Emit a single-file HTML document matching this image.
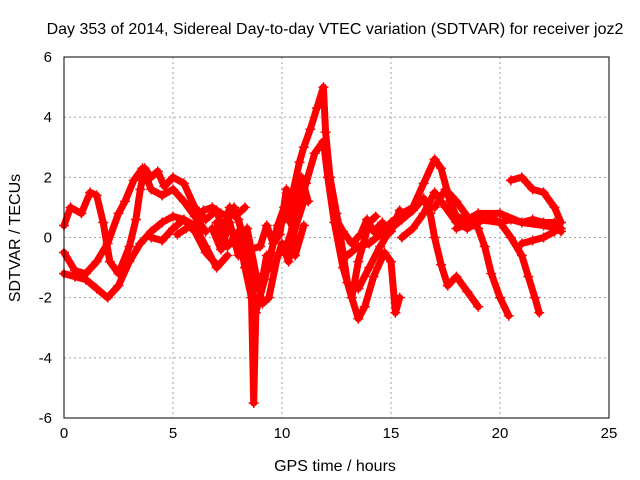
<!DOCTYPE html>
<html><head><meta charset="utf-8"><style>
body{margin:0;background:#fff}
svg{display:block;font-family:"Liberation Sans",sans-serif}
</style></head><body>
<svg id="chart" width="640" height="480">
<rect width="640" height="480" fill="#fff"/>
<g id="grid"></g>
<g id="series"></g>
<rect x="64" y="57" width="545" height="361" fill="none" stroke="#000" stroke-width="1"/>
<g id="ticks"></g>
<text x="335" y="34" text-anchor="middle" font-size="16">Day 353 of 2014, Sidereal Day-to-day VTEC variation (SDTVAR) for receiver joz2</text>
<text x="335" y="471" text-anchor="middle" font-size="16">GPS time / hours</text>
<text transform="translate(20,238) rotate(-90)" text-anchor="middle" font-size="16">SDTVAR / TECUs</text>
</svg>
<script>
const xTicks=[0,5,10,15,20,25];
const yTicks=[-6,-4,-2,0,2,4,6];
const track1=[[0,-1.2],[0.5,-1.3],[1,-1.4],[1.5,-1.7],[2,-2.0],[2.5,-1.6],[3,-0.8],[3.5,-0.2],[4,0.2],[4.5,0.5],[5,0.7],[5.5,0.6],[6,0.2],[6.5,-0.5],[7,-0.9]];
const track2=[[0,0.4],[0.3,1.0],[0.8,0.8],[1.2,1.5],[1.5,1.4],[1.8,0.5],[2.1,-0.8],[2.5,-1.2],[3,-0.3],[3.3,0.6],[3.5,1.6],[3.7,2.3],[4,2.0],[4.3,2.2],[4.6,1.7],[5,2.0],[5.5,1.8],[6,1.0],[6.5,0.6]];
const track3=[[0,-0.5],[0.5,-1.1],[1,-1.2],[1.5,-0.8],[2,-0.2],[2.5,0.8],[2.8,1.2],[3.2,1.9],[3.6,2.3],[4,1.6],[4.5,1.4],[5,1.6],[5.5,1.2],[6,0.7],[6.5,0.2]];
const track4=[[4,0.0],[4.5,-0.1],[5,0.3],[5.5,0.6],[6,0.4],[6.5,-0.3],[7,-1.0],[7.5,-0.6]];
const track5=[[6.5,0.6],[7,0.9],[7.3,0.2],[7.6,1.0],[8,0.6],[8.3,-0.2],[8.6,-1.0],[8.7,-2.8],[8.9,-2.2],[9.2,-1.4],[9.5,-0.5],[9.8,0.4],[10.1,1.0],[10.5,0.3]];
const track6=[[7,0.5],[7.5,-0.3],[8,0.2],[8.3,-1.0],[8.6,-2.0],[8.7,-5.5],[8.8,-2.5],[9,-1.8],[9.3,-0.6],[9.6,-1.1],[10,-0.2],[10.3,-0.8],[10.6,0.3],[11,1.2]];
const track7=[[10,0.5],[10.5,1.5],[10.8,2.5],[11,3.0],[11.3,3.6],[11.6,4.3],[11.9,5.0],[12,3.5],[12.2,2.0],[12.5,0.8],[12.8,-0.5],[13,-1.5],[13.2,-2.0],[13.5,-0.8],[14,0.5],[14.3,0.7]];
const track8=[[10.2,-0.3],[10.7,0.8],[11.1,1.8],[11.5,2.8],[11.9,3.2],[12.1,2.0],[12.4,0.5],[12.8,-1.0],[13.2,-2.0],[13.5,-2.7],[13.8,-2.3],[14.2,-1.3],[14.7,-0.5],[15,-0.8],[15.2,-2.5],[15.4,-2.0]];
const track9=[[13,-0.6],[13.5,-0.3],[14,-0.2],[14.5,0.1],[15,0.5],[15.5,0.8],[16,1.0],[16.5,1.8],[17,2.6],[17.3,2.3],[17.7,1.2],[18,0.7],[18.5,0.6],[19,0.8],[20,0.8],[21,0.5],[22,0.4],[22.7,0.3]];
const track10=[[13.5,-1.7],[14,-1.0],[14.5,-0.3],[15,0.3],[15.5,0.6],[16,0.9],[16.5,1.3],[16.8,0.8],[17,0.0],[17.3,-0.9],[17.6,-1.6],[18,-1.3],[18.5,-1.8],[19,-2.3]];
const track11=[[15.5,0.0],[16,0.3],[16.5,0.8],[17,1.5],[17.5,1.0],[18,0.5],[18.5,0.3],[19,0.5],[19.5,0.7],[20,0.5],[20.5,0.6],[21,0.5],[21.5,0.6],[22,0.5],[22.5,0.5],[22.8,0.2]];
const track12=[[17,1.0],[17.5,1.6],[18,1.2],[18.5,0.7],[19,0.3],[19.3,-0.3],[19.6,-1.2],[20,-2.0],[20.4,-2.6]];
const track13=[[20.5,1.9],[21,2.0],[21.5,1.6],[22,1.5],[22.5,1.0],[22.8,0.5]];
const track14=[[18,0.3],[19,0.6],[20,0.5],[20.5,0.0],[21,-0.6],[21.3,-1.3],[21.6,-2.0],[21.8,-2.5]];
const track15=[[21,-0.2],[21.5,-0.1],[22,0.0],[22.5,0.2],[22.8,0.3]];
const track16=[[6.8,0.3],[7.2,-0.4],[7.6,0.5],[8,-0.6],[8.4,0.3],[8.8,-1.2],[9.1,-2.2],[9.4,-2.0],[9.8,-0.6],[10.2,-0.2],[10.6,-0.6],[11,0.4]];
const track17=[[7.8,1.0],[8.2,0.1],[8.5,-0.4],[9,-0.3],[9.3,0.4],[9.6,-0.2],[9.9,0.1],[10.2,1.6],[10.5,0.8],[10.9,2.0],[11.2,1.2]];
const track18=[[12.5,0.6],[12.8,0.2],[13.2,-0.2],[13.6,0.1],[13.9,0.6],[14.2,0.2],[14.6,0.5],[15,0.2],[15.4,0.9]];
const track19=[[5.2,0.1],[5.6,0.3],[6,0.4],[6.4,0.9],[6.8,1.0],[7.2,0.8],[7.6,0.7],[8,0.8],[8.3,1.0]];
const tracks=[track1,track2,track3,track4,track5,track6,track7,track8,track9,track10,track11,track12,track13,track14,track15,track16,track17,track18,track19];

const X0=64,X1=609,Y0=418,Y1=57;
function xs(v){return X0+(v-0)/(25-0)*(X1-X0);}
function ys(v){return Y0-(v+6)/12*(Y0-Y1);}
const NS="http://www.w3.org/2000/svg";
const grid=document.getElementById('grid'),ticks=document.getElementById('ticks'),ser=document.getElementById('series');
function mk(tag,attrs,parent){const e=document.createElementNS(NS,tag);for(const k in attrs)e.setAttribute(k,attrs[k]);parent.appendChild(e);return e;}
xTicks.forEach(t=>{
  const x=xs(t);
  if(t>0&&t<25){const g=mk('line',{x1:x,x2:x,y1:Y1,y2:Y0,stroke:'#a0a0a0','stroke-dasharray':'2,3'},grid);
  
  }
  const l=mk('text',{x:x,y:Y0+20,'text-anchor':'middle','font-size':'15'},ticks);
  l.textContent=t;
  
  
});
yTicks.forEach(t=>{
  const y=ys(t);
  if(t>-6&&t<6){const g=mk('line',{x1:X0,x2:X1,y1:y,y2:y,stroke:'#a0a0a0','stroke-dasharray':'2,3'},grid);
  
  }
  const l=mk('text',{x:X0-12,y:y+5,'text-anchor':'end','font-size':'15'},ticks);
  l.textContent=t;
  
  
});
tracks.forEach((tr,i)=>{
  const d=tr.map((p,j)=>(j?'L':'M')+xs(p[0]).toFixed(1)+' '+ys(p[1]).toFixed(1)).join(' ');
  const p=mk('path',{d:d,fill:'none',stroke:'#ff0000','stroke-width':'7','stroke-linejoin':'round','stroke-linecap':'round'},ser);
  
  
  tr.forEach(pt=>{
    const x=xs(pt[0]),y=ys(pt[1]);
    const m=mk('path',{d:`M${x-5} ${y}H${x+5}M${x} ${y-5}V${y+5}`,stroke:'#ff0000','stroke-width':'1.5'},ser);
    
    
  });
});
</script>
</body></html>
